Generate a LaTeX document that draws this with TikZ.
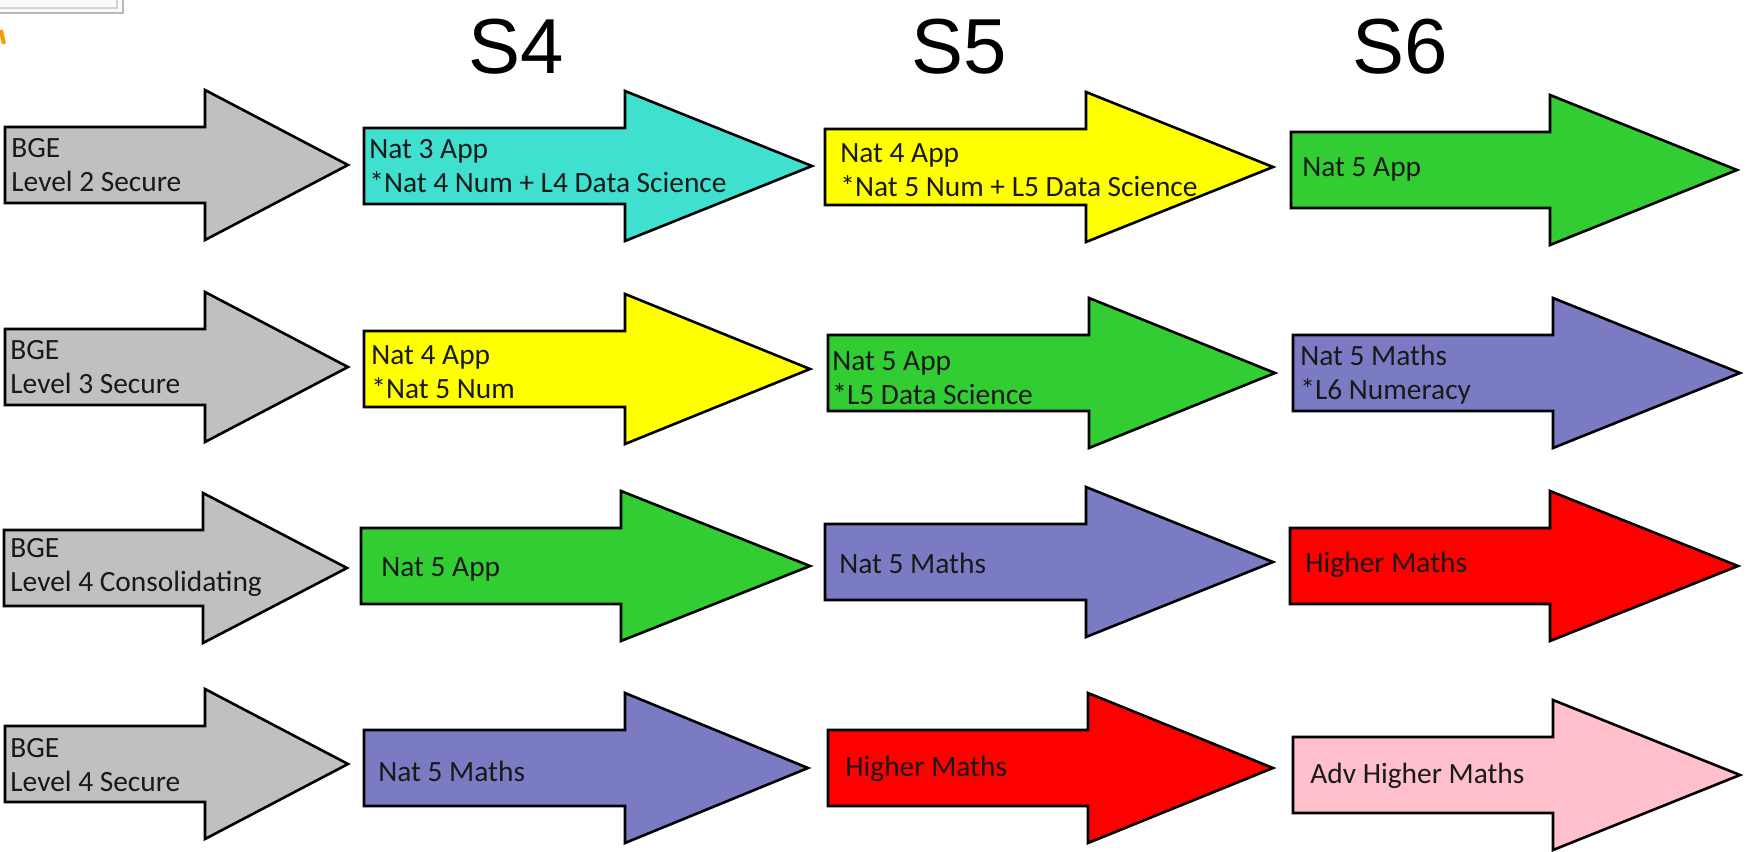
\documentclass[tikz,border=0pt]{standalone}
\usepackage{fontspec}
\setmainfont{Carlito}
\newfontfamily\headfont{Liberation Sans}
\usepackage{tikz}
\usetikzlibrary{positioning}
\definecolor{bgegray}{HTML}{C0C0C0}
\definecolor{natteal}{HTML}{40E0D0}
\definecolor{natyellow}{HTML}{FFFF00}
\definecolor{natgreen}{HTML}{32CD32}
\definecolor{natblue}{HTML}{7B7BC4}
\definecolor{highred}{HTML}{FF0000}
\definecolor{advpink}{HTML}{FFC0CB}
\tikzset{
  arrowbody/.style={draw=black, line width=1.3pt, line join=miter, fill=#1},
  coursetext/.style={anchor=west, align=left, inner sep=0pt, text=black!90,
    font=\fontsize{14.7}{17}\selectfont},
  yearlabel/.style={font=\headfont\fontsize{39}{39}\selectfont, inner sep=0pt}
}
% fill, left end, centre line, start of head, tip
\newcommand{\coursearrow}[5]{%
  \draw[arrowbody=#1] (#2,#3-38) -- (#4,#3-38) -- (#4,#3-75) -- (#5,#3)
    -- (#4,#3+75) -- (#4,#3+38) -- (#2,#3+38) -- cycle;}

\begin{document}
\begin{tikzpicture}[x=0.5pt, y=-0.5pt]
    \useasboundingbox[fill=white] (0,0) rectangle (1749,851);

    % scraps at the top left corner
    \draw[gray!55, line width=1pt, fill=gray!4] (-10,-10) rectangle (123,13);
    \draw[gray!35, line width=0.8pt] (-10,-10) rectangle (117,8);
    \draw[orange!80!yellow, line width=2pt] (1,30) -- (4,44);

    \node[yearlabel] (s4) at (516,47) {S4};
    \node[yearlabel] (s5) at (959,47) {S5};
    \node[yearlabel] (s6) at (1400,47) {S6};

    % row 1
    \coursearrow{bgegray}{5}{165}{205}{348}
    \coursearrow{natteal}{364}{166}{625}{812}
    \coursearrow{natyellow}{825}{167}{1086}{1273}
    \coursearrow{natgreen}{1291}{170}{1550}{1737}
    \node[coursetext] (t11) at (11,165) {BGE\\Level 2 Secure};
    \node[coursetext] (t12) at (369,166) {Nat 3 App\\*Nat 4 Num + L4 Data Science};
    \node[coursetext] (t13) at (840,170) {Nat 4 App\\*Nat 5 Num + L5 Data Science};
    \node[coursetext] (t14) at (1302,169) {Nat 5 App};

    % row 2
    \coursearrow{bgegray}{5}{367}{205}{348}
    \coursearrow{natyellow}{364}{369}{625}{810}
    \coursearrow{natgreen}{828}{373}{1089}{1275}
    \coursearrow{natblue}{1293}{373}{1553}{1740}
    \node[coursetext] (t21) at (10,367) {BGE\\Level 3 Secure};
    \node[coursetext] (t22) at (371,372) {Nat 4 App\\*Nat 5 Num};
    \node[coursetext] (t23) at (832,378) {Nat 5 App\\*L5 Data Science};
    \node[coursetext] (t24) at (1300,375) {Nat 5 Maths\\*L6 Numeracy};

    % row 3
    \coursearrow{bgegray}{4}{568}{203}{347}
    \coursearrow{natgreen}{361}{566}{621}{810}
    \coursearrow{natblue}{825}{562}{1086}{1273}
    \coursearrow{highred}{1290}{566}{1550}{1738}
    \node[coursetext] (t31) at (10,567) {BGE\\Level 4 Consolidating};
    \node[coursetext] (t32) at (381,569) {Nat 5 App};
    \node[coursetext] (t33) at (839,563) {Nat 5 Maths};
    \node[coursetext] (t34) at (1305,565) {Higher Maths};

    % row 4
    \coursearrow{bgegray}{5}{764}{205}{348}
    \coursearrow{natblue}{364}{768}{625}{808}
    \coursearrow{highred}{828}{768}{1088}{1273}
    \coursearrow{advpink}{1293}{775}{1553}{1740}
    \node[coursetext] (t41) at (10,765) {BGE\\Level 4 Secure};
    \node[coursetext] (t42) at (378,771) {Nat 5 Maths};
    \node[coursetext] (t43) at (845,769) {Higher Maths};
    \node[coursetext] (t44) at (1310,776) {Adv Higher Maths};
\end{tikzpicture}
\end{document}
